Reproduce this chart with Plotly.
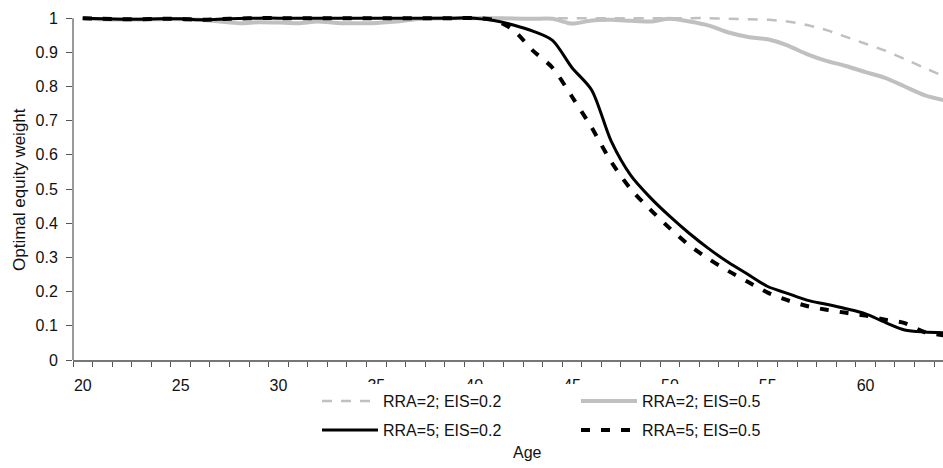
import plotly.graph_objects as go

ages = list(range(20, 65))

rra2_eis02 = [1.0, 0.999, 0.998, 0.998, 0.999, 0.999, 0.997, 0.998, 0.999, 1.0,
              1.0, 1.0, 1.0, 1.0, 1.0, 1.0, 1.0, 1.0, 1.0, 1.0,
              1.0, 1.0, 1.0, 1.0, 1.0, 1.0, 1.0, 1.0, 1.0, 1.0,
              1.0, 1.0, 1.0, 0.998, 0.997, 0.995, 0.99, 0.98, 0.965, 0.945,
              0.925, 0.905, 0.88, 0.855, 0.83]
rra2_eis05 = [1.0, 0.997, 0.996, 0.996, 0.997, 0.997, 0.995, 0.99, 0.985, 0.988,
              0.987, 0.985, 0.99, 0.986, 0.985, 0.986, 0.99, 0.997, 0.999, 1.0,
              1.0, 1.0, 0.999, 0.998, 0.998, 0.984, 0.993, 0.995, 0.992, 0.99,
              0.998, 0.99, 0.978, 0.958, 0.945, 0.938, 0.92, 0.895, 0.875, 0.86,
              0.842, 0.825, 0.8, 0.775, 0.76]
rra5_eis02 = [1.0, 0.998, 0.997, 0.997, 0.998, 0.998, 0.995, 0.997, 0.999, 1.0,
              1.0, 1.0, 1.0, 1.0, 1.0, 1.0, 1.0, 1.0, 1.0, 1.0,
              1.0, 0.993, 0.98, 0.962, 0.935, 0.855, 0.79, 0.64, 0.54, 0.475,
              0.42, 0.37, 0.325, 0.285, 0.25, 0.215, 0.195, 0.175, 0.163, 0.15,
              0.135, 0.11, 0.088, 0.082, 0.08]
rra5_eis05 = [1.0, 0.998, 0.997, 0.997, 0.998, 0.998, 0.995, 0.997, 0.999, 1.0,
              1.0, 1.0, 1.0, 1.0, 1.0, 1.0, 1.0, 1.0, 1.0, 1.0,
              1.0, 0.995, 0.965, 0.905, 0.855, 0.77, 0.68, 0.58, 0.5, 0.44,
              0.385, 0.335, 0.295, 0.26, 0.228, 0.197, 0.175, 0.158, 0.147, 0.138,
              0.13, 0.118, 0.108, 0.082, 0.072]

series_names = ["RRA=2; EIS=0.2", "RRA=2; EIS=0.5", "RRA=5; EIS=0.2", "RRA=5; EIS=0.5"]
x_tick_vals = [20, 25, 30, 35, 40, 45, 50, 55, 60]
y_tick_vals = [0, 0.1, 0.2, 0.3, 0.4, 0.5, 0.6, 0.7, 0.8, 0.9, 1]

FONT = "Liberation Sans, Arial, sans-serif"

fig = go.Figure()
styles = [
    dict(color="#c0c0c0", width=2.5, dash="10px,9px"),
    dict(color="#c0c0c0", width=4),
    dict(color="#000000", width=3),
    dict(color="#000000", width=4, dash="9px,11px"),
]
series = [rra2_eis02, rra2_eis05, rra5_eis02, rra5_eis05]
legends = ["legend", "legend", "legend2", "legend2"]
for name, ys, st, lg in zip(series_names, series, styles, legends):
    fig.add_trace(go.Scatter(
        x=ages, y=ys, name=name, mode="lines",
        line=dict(shape="spline", smoothing=0.8, **st),
        legend=lg,
    ))

# body margin is removed in the page (post_script), so page pixels = figure pixels
W, H = 943, 468
ML, MR, MT = 73, 0, 13
MB = H - 360
pw = W - ML - MR
ph = H - MT - MB


def px_x(p):
    return (p - ML) / pw


def px_y(p):
    return (H - MB - p) / ph


ITEMW = 56
LEG_X = 317
fig.update_layout(
    width=W, height=H,
    margin=dict(l=ML, r=MR, t=MT, b=MB),
    paper_bgcolor="white", plot_bgcolor="white",
    font=dict(family=FONT, size=16, color="#111111"),
    showlegend=True,
    legend=dict(orientation="h", x=px_x(LEG_X), y=px_y(384),
                xanchor="left", yanchor="top",
                bgcolor="white", entrywidth=188, font=dict(size=16), itemwidth=ITEMW,
                traceorder="normal"),
    legend2=dict(orientation="h", x=px_x(LEG_X), y=px_y(430),
                 xanchor="left", yanchor="middle",
                 bgcolor="rgba(0,0,0,0)", entrywidth=188, font=dict(size=16), itemwidth=ITEMW,
                 traceorder="normal"),
    xaxis=dict(
        range=[19.5, 19.5 + pw / 19.57],
        tickmode="array", tickvals=x_tick_vals, ticktext=[str(v) for v in x_tick_vals],
        ticks="", showgrid=False, zeroline=False, ticklabelstandoff=10,
        showline=True, linecolor="#777777", linewidth=2,
        minor=dict(ticks="outside", tick0=19.5, dtick=1, ticklen=5, tickcolor="#555555",
                   tickwidth=1, showgrid=False),
        tickfont=dict(size=16),
    ),
    yaxis=dict(
        range=[0, 1.015],
        tickmode="array", tickvals=y_tick_vals,
        ticks="outside", ticklen=6, tickcolor="#555555", tickwidth=1,
        showgrid=False, zeroline=False, showline=False, ticklabelstandoff=5,
        tickfont=dict(size=16),
    ),
    shapes=[dict(type="line", xref="paper", yref="y", x0=0, x1=0, y0=0, y1=1,
                 line=dict(color="#777777", width=1.5), layer="above")],
    annotations=[
        dict(text="Optimal equity weight", xref="paper", yref="paper",
             x=px_x(19), y=px_y(190), textangle=-90, showarrow=False,
             xanchor="center", yanchor="middle", font=dict(size=17)),
        dict(text="Age", xref="paper", yref="paper",
             x=px_x(527), y=px_y(452), showarrow=False,
             xanchor="center", yanchor="middle", font=dict(size=16)),
    ],
)

fig.write_html(
    "out.html",
    config={"displayModeBar": False},
    post_script="document.body.style.margin='0';document.body.style.overflow='hidden';",
)
